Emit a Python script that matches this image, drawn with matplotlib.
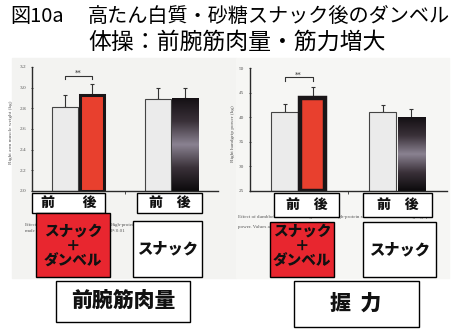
import matplotlib
matplotlib.use("Agg")
import matplotlib.pyplot as plt
import numpy as np
from matplotlib.patches import Rectangle
from matplotlib.colors import LinearSegmentedColormap

plt.rcParams['font.family'] = ['Noto Sans CJK JP', 'DejaVu Sans']

# data
muscle_mean = [2.81, 2.93, 2.89, 2.90]
muscle_err = [0.12, 0.11, 0.11, 0.10]
muscle_ticks = [2.0, 2.2, 2.4, 2.6, 2.8, 3.0, 3.2]

grip_mean = [41.1, 43.9, 41.0, 39.9]
grip_err = [1.6, 2.2, 1.4, 1.8]
grip_ticks = [25, 30, 35, 40, 45, 50]

title1 = "高たん白質・砂糖スナック後のダンベル"
title2 = "体操：前腕筋肉量・筋力増大"

W, H = 456, 334
fig = plt.figure(figsize=(W / 100, H / 100), dpi=100)

# overlay in pixel coords for the boxes and texts
ax0 = fig.add_axes([0, 0, 1, 1], zorder=0)
ax0.set_xlim(0, W)
ax0.set_ylim(H, 0)
ax0.axis('off')

# scanned paper area
ax0.add_patch(Rectangle((12, 58), 224, 220, color='#f3f3f1', zorder=0))
ax0.add_patch(Rectangle((236, 58), 213, 220, color='#f6f6f4', zorder=0))

ax0.text(10, 17, "図10a", fontsize=14.5, va='center', ha='left')
ax0.text(88, 17, title1, fontsize=14.5, va='center', ha='left')
ax0.text(88, 42, title2, fontsize=16.5, va='center', ha='left')

# the parts of the captions left visible between the boxes
cap = dict(family='Liberation Serif', fontsize=3.6, color='#555555', zorder=1)
ax0.text(25, 226, "Effect", **cap)
ax0.text(25, 232, "made", **cap)
ax0.text(111, 226, "High-protein", **cap)
ax0.text(111, 232, "P<0.01", **cap)
ax0.text(238, 218, "Effect of dumbbell exercise after ingestion of a high-protein snack for one month on right grip",
         **cap)
ax0.text(238, 228, "power. Values ar", **cap)


def box(x0, y0, x1, y1, face='white', lw=1.0):
    ax0.add_patch(Rectangle((x0, y0), x1 - x0, y1 - y0, facecolor=face,
                            edgecolor='black', linewidth=lw, zorder=3))


lab = dict(fontweight='heavy', color='#111111', ha='center', va='center', zorder=4)

# 前 後 boxes
for (x0, y0, x1, y1) in [(32, 193, 105, 213), (137, 193, 202, 213),
                         (274, 193, 339, 217), (363, 193, 432, 217)]:
    box(x0, y0, x1, y1)
    ax0.text((x0 + x1) / 2, (y0 + y1) / 2, "前　　後" if x1 - x0 > 70 else "前　後",
             fontsize=10, **lab)

# snack boxes
for (x0, y0, x1, y1) in [(36, 213, 110, 277), (270, 222, 334, 277)]:
    box(x0, y0, x1, y1, face='#e8262f')
    cx = (x0 + x1) / 2
    ax0.text(cx, y1 - 46, "スナック", fontsize=10.5, **lab)
    ax0.text(cx, y1 - 31, "＋", fontsize=10.5, **lab)
    ax0.text(cx, y1 - 16, "ダンベル", fontsize=10.5, **lab)

for (x0, y0, x1, y1) in [(133, 221, 202, 277), (363, 222, 436, 277)]:
    box(x0, y0, x1, y1)
    ax0.text((x0 + x1) / 2, (y0 + y1) / 2, "スナック", fontsize=11, **lab)

box(56, 281, 190, 322)
ax0.text(123, 301, "前腕筋肉量", fontsize=15, **lab)
box(294, 281, 419, 327)
ax0.text(356, 303, "握  力", fontsize=15, **lab)

dark_cm = LinearSegmentedColormap.from_list(
    'darkbar', ['#141014', '#3a3139', '#8a8291', '#3a3139', '#0c0a0c'])


def chart(left, top, right, bottom, means, errs, ticks, xlim, pos, ylabel, lab_x,
          red_lw, bracket_h):
    ax = fig.add_axes([left / W, 1 - bottom / H, (right - left) / W, (bottom - top) / H],
                      zorder=1)
    ax.patch.set_alpha(0)
    base = ticks[0]
    w = 0.97
    ax.bar(pos[0], means[0] - base, bottom=base, width=w, color='#ebebeb',
           edgecolor='#444444', linewidth=0.8, zorder=2)
    ax.bar(pos[1], means[1] - base, bottom=base, width=w - 0.08, color='#e8402e',
           edgecolor='#1a1618', linewidth=red_lw, zorder=2)
    ax.bar(pos[2], means[2] - base, bottom=base, width=w, color='#ebebeb',
           edgecolor='#444444', linewidth=0.8, zorder=2)
    grad = np.linspace(0, 1, 256).reshape(-1, 1)
    ax.imshow(grad, extent=[pos[3] - w / 2, pos[3] + w / 2, base, means[3]],
              aspect='auto', cmap=dark_cm, origin='upper', zorder=2)
    ax.errorbar(pos, means, yerr=[[0] * 4, errs], fmt='none', ecolor='#333333',
                elinewidth=0.8, capsize=1.2, capthick=0.8, zorder=1)
    # significance bracket
    yb = ticks[-1] - bracket_h
    tick_len = (ticks[-1] - ticks[0]) * 0.027
    ax.plot([pos[0], pos[0], pos[1], pos[1]], [yb - tick_len, yb, yb, yb - tick_len],
            color='#333333', linewidth=0.8)
    ax.text((pos[0] + pos[1]) / 2, yb, "**", ha='center', va='bottom', fontsize=5,
            color='#333333', family='DejaVu Sans')
    ax.set_xlim(*xlim)
    ax.set_ylim(ticks[0], ticks[-1])
    ax.set_yticks(ticks)
    ax.set_yticklabels([f"{t:g}" if isinstance(t, int) else f"{t:.1f}" for t in ticks])
    ax.set_xticks([(pos[0] + pos[3]) / 2])
    ax.set_xticklabels([])
    for s in ['top', 'right']:
        ax.spines[s].set_visible(False)
    for s in ['left', 'bottom']:
        ax.spines[s].set_color('#2a2a2a')
        ax.spines[s].set_linewidth(1.0)
    ax.tick_params(axis='y', direction='inout', length=2, width=0.6, colors='#333333',
                   labelsize=3.8, pad=3, labelcolor='#555555')
    ax.tick_params(axis='x', direction='out', length=2, width=0.6, colors='#333333')
    for t in ax.get_yticklabels():
        t.set_family('Liberation Serif')
    ax.set_ylabel(ylabel, family='Liberation Serif', fontsize=3.8, color='#555555')
    ax.yaxis.set_label_coords(lab_x, 0.47)
    return ax


chart(32, 67, 218, 191, muscle_mean, muscle_err, muscle_ticks,
      (-1.22, 5.67), [0, 1, 3.45, 4.46], "Right arm muscle weight (kg)", -0.10,
      2.2, 0.085)
chart(250, 68, 447, 191, grip_mean, grip_err, grip_ticks,
      (-1.23, 5.79), [0, 1, 3.5, 4.52], "Right handgrip power (kg)", -0.075,
      3.2, 1.9)

fig.savefig("out.png", dpi=100)
